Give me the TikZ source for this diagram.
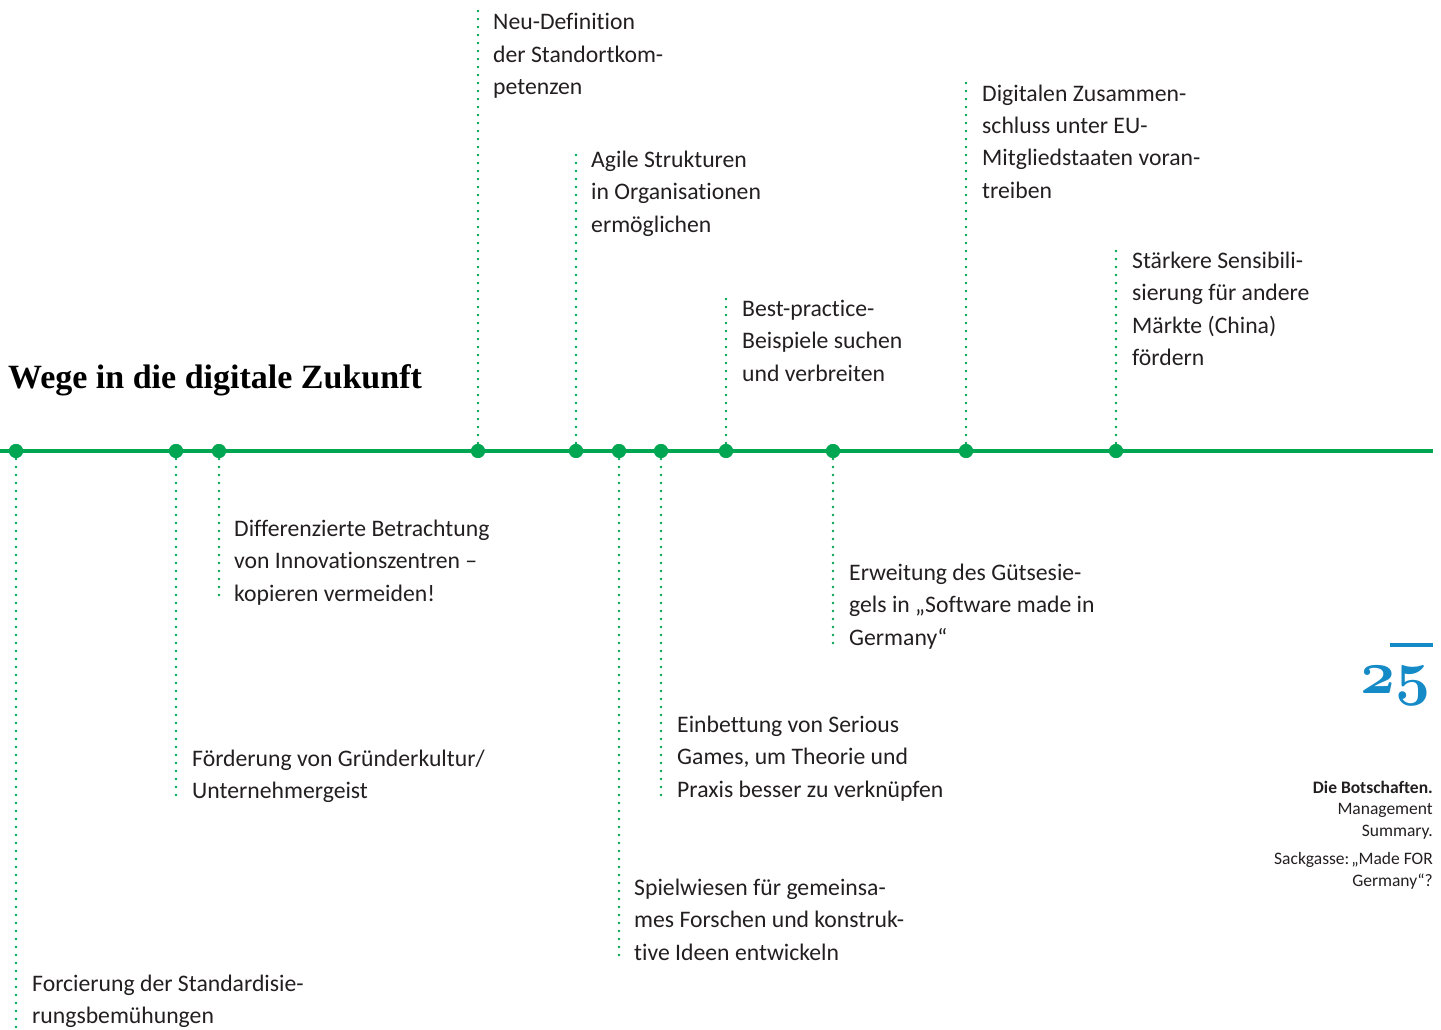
\documentclass[tikz,border=0pt]{standalone}
\usepackage{fontspec}
\setmainfont[Ligatures=NoCommon]{Carlito}
\newfontfamily\titlefont{Liberation Serif}
\definecolor{tlgreen}{RGB}{0,166,81}
\definecolor{pgblue}{RGB}{20,138,199}
\definecolor{txt}{RGB}{35,31,32}
\begin{document}
\begin{tikzpicture}[x=1pt,y=-1pt,
  mainline/.style={draw=tlgreen,line width=3.8pt},
  dotline/.style={draw=tlgreen,line width=2.9pt,line cap=round,dash pattern=on 0pt off 8pt},
  tdot/.style={circle,fill=tlgreen,inner sep=0pt,minimum size=14pt},
  lbl/.style={anchor=base west,align=left,inner sep=0pt,text=txt,font=\fontsize{23.7}{32.5}\selectfont},
  side/.style={anchor=base east,align=right,inner sep=0pt,text=txt,font=\fontsize{17.5}{21.5}\selectfont}]
\useasboundingbox (0,0) rectangle (1441,1030);
% title
\node[anchor=base west,inner sep=0pt,font=\titlefont\bfseries\fontsize{34}{34}\selectfont] (title) at (8,388) {Wege in die digitale Zukunft};
% main line
\coordinate (m0) at (0,451);
\coordinate (m1) at (1433,451);
\draw[mainline] (m0) -- (m1);
% dots
\foreach \n/\x in {1/16,2/176,3/219,4/478,5/576,6/619,7/661,8/726,9/833,10/966,11/1116}
  \node[tdot] (d\n) at (\x,451) {};
% dotted line ends
\coordinate (e1) at (16,1030);
\coordinate (e2) at (176,800);
\coordinate (e3) at (219,600);
\coordinate (e4) at (478,10);
\coordinate (e5) at (576,148);
\coordinate (e6) at (619,962);
\coordinate (e7) at (661,800);
\coordinate (e8) at (726,297);
\coordinate (e9) at (833,648);
\coordinate (e10) at (966,82);
\coordinate (e11) at (1116,250);
\foreach \n in {1,...,11}
  \draw[dotline] (d\n.center) -- (e\n);
\foreach \n in {1,...,11}
  \node[tdot] at (d\n.center) {};
% labels above (anchor = baseline of last line)
\node[lbl] (l4) at (493,95) {Neu-Definition\\der Standortkom-\\petenzen};
\node[lbl] (l5) at (591,232) {Agile Strukturen\\in Organisationen\\ermöglichen};
\node[lbl] (l8) at (742,381) {Best-practice-\\Beispiele suchen\\und verbreiten};
\node[lbl] (l10) at (982,198.5) {Digitalen Zusammen-\\schluss unter EU-\\Mitgliedstaaten voran-\\treiben};
\node[lbl] (l11) at (1132,365.5) {Stärkere Sensibili-\\sierung für andere\\Märkte (China)\\fördern};
% labels below
\node[lbl] (l1) at (32,1023.5) {Forcierung der Standardisie-\\rungsbemühungen};
\node[lbl] (l2) at (192,798.5) {Förderung von Gründerkultur/\\Unternehmergeist};
\node[lbl] (l3) at (234,601) {Differenzierte Betrachtung\\von Innovationszentren –\\kopieren vermeiden!};
\node[lbl] (l6) at (634,960) {Spielwiesen für gemeinsa-\\mes Forschen und konstruk-\\tive Ideen entwickeln};
\node[lbl] (l7) at (677,797) {Einbettung von Serious\\Games, um Theorie und\\Praxis besser zu verknüpfen};
\node[lbl] (l9) at (849,645) {Erweitung des Gütsesie-\\gels in „Software made in\\Germany“};
% page number
\coordinate (p0) at (1390,645);
\coordinate (p1) at (1433,645);
\draw[draw=pgblue,line width=3.4pt] (p0) -- (p1);
\node[anchor=base east,inner sep=0pt,text=pgblue] (pg) at (1431,693) {\scalebox{2.45}{\fontsize{24.88}{30}\usefont{OML}{cmm}{b}{it}25}};
% side texts
\node[side] (s1) at (1433,836) {\textbf{Die Botschaften.}\\Management\\Summary.};
\node[side] (s2) at (1433,886) {Sackgasse:\kern-2pt\ „Made FOR\\Germany“?};
\end{tikzpicture}
\end{document}
